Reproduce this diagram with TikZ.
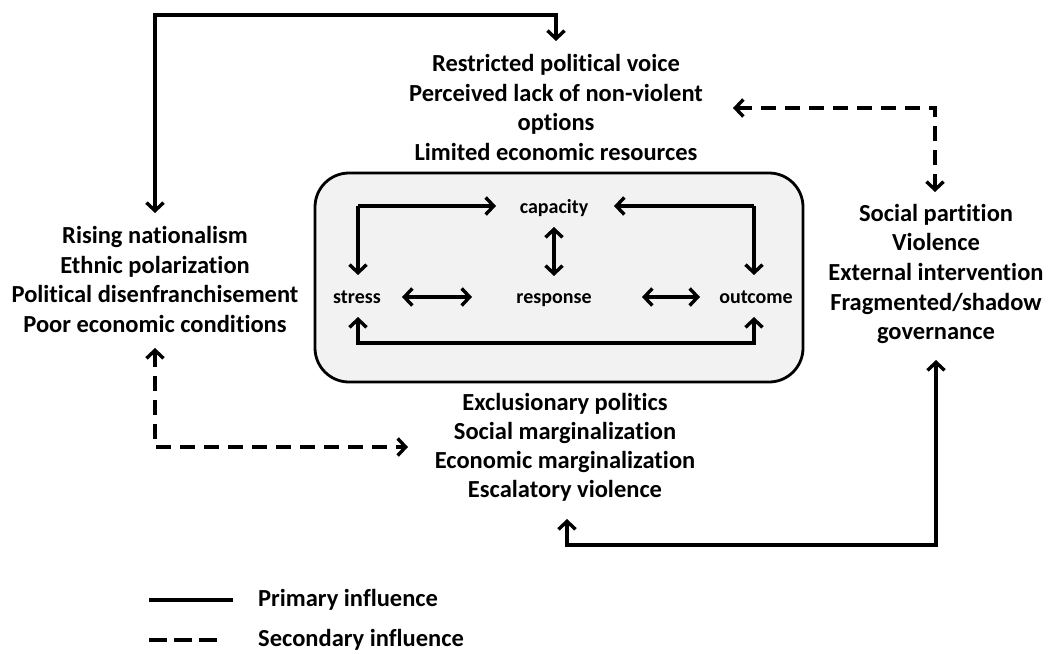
\documentclass[tikz,border=0pt]{standalone}
\usepackage{fontspec}
\setmainfont{Carlito}[Ligatures=NoCommon]
\usetikzlibrary{arrows.meta}
\begin{document}
\begin{tikzpicture}[x=1pt,y=-1pt,
  txt/.style={font=\bfseries\fontsize{24.5}{29.6}\selectfont, align=center, inner sep=0pt},
  small/.style={font=\bfseries\fontsize{20}{22}\selectfont, inner sep=0pt, anchor=base},
  tip/.tip={Straight Barb[length=8pt,width=17pt,line width=3.4pt]},
  conn/.style={line width=3.4pt, -tip},
  both/.style={line width=3.4pt, tip-tip},
  dsh/.style={dash pattern=on 15pt off 9pt}
]
\useasboundingbox (0,0) rectangle (1048,653);
% central box
\node[draw, line width=2.8pt, fill=black!5, rounded corners=34pt, minimum width=488pt, minimum height=209pt, inner sep=0pt] (box) at (559,277.5) {};
% texts
\node[txt] (top) at (556,107.5) {Restricted political voice\\Perceived lack of non-violent\\options\\Limited economic resources};
\node[txt] (left) at (155,279.5) {Rising nationalism\\Ethnic polarization\\Political disenfranchisement\\Poor economic conditions};
\node[txt] (right) at (936,274) {Social partition\\Violence\\External intervention\\Fragmented/shadow\\governance};
\node[txt, font=\bfseries\fontsize{24.5}{29}\selectfont] (bottom) at (565,447) {Exclusionary politics\\Social marginalization\\Economic marginalization\\Escalatory violence};
\node[small] (cap) at (554,213) {capacity};
\node[small] (stress) at (357,303) {stress};
\node[small] (resp) at (554,303) {response};
\node[small] (out) at (756,303) {outcome};
% coordinates
\coordinate (t1) at (155,15);
\coordinate (t2) at (556,15);
\coordinate (topin) at (556,41);
\coordinate (leftin) at (155,213);
\coordinate (d1) at (935,108);
\coordinate (topr) at (733,108);
\coordinate (rightin) at (935,192);
\coordinate (leftout) at (155,348);
\coordinate (d2) at (155,447);
\coordinate (botl) at (408,447);
\coordinate (botin) at (567,519);
\coordinate (b1) at (567,545);
\coordinate (b2) at (936,545);
\coordinate (rightbot) at (936,360);
\coordinate (sc) at (358,206);
\coordinate (oc) at (754,206);
\coordinate (sb) at (358,343);
\coordinate (ob) at (754,343);
% outer primary
\draw[both] (leftin) -- (t1) -- (t2) -- (topin);
\draw[both] (botin) -- (b1) -- (b2) -- (rightbot);
% outer secondary
\draw[both, dsh] (topr) -- (d1) -- (rightin);
\draw[both, dsh] (leftout) -- (d2) -- (botl);
% inner
\draw[conn] (sc) -- (sc |- 0,275);
\draw[conn] (sc) -- (496,206);
\draw[conn] (oc) -- (oc |- 0,275);
\draw[conn] (oc) -- (614,206);
\draw[both] (cap.south |- 0,227) -- (resp.north |- 0,276);
\draw[both] (402,297) -- (472,297);
\draw[both] (642,297) -- (700,297);
\draw[both] (sb |- 0,317) -- (sb) -- (ob) -- (ob |- 0,317);
% legend
\coordinate (l1) at (149,600);
\coordinate (l2) at (233,600);
\coordinate (l3) at (149,640);
\coordinate (l4) at (219,640);
\draw[line width=3.4pt] (l1) -- (l2);
\draw[line width=3.4pt, dash pattern=on 18pt off 7pt] (l3) -- (l4);
\node[txt, anchor=west] (prim) at (258,600) {Primary influence};
\node[txt, anchor=west] (sec) at (258,640) {Secondary influence};
\end{tikzpicture}
\end{document}
